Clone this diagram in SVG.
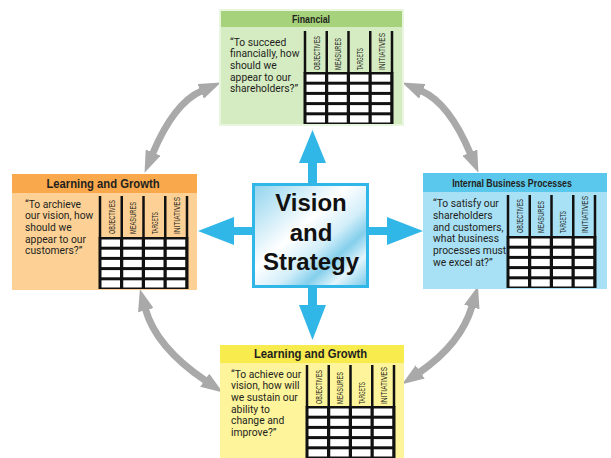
<svg xmlns="http://www.w3.org/2000/svg" xmlns:xlink="http://www.w3.org/1999/xlink" width="611" height="458" viewBox="0 0 611 458">
<style>
.body{font-family:Roboto,"Liberation Sans",sans-serif;font-size:10.3px;fill:#231f20}
.title{font-family:"Liberation Sans",Arial,sans-serif;font-weight:bold;font-size:11px;fill:#231f20;text-anchor:middle}
.big{font-size:12px}
.hdr{font-family:"Liberation Sans",sans-serif;font-size:9.5px;fill:#231f20}
.center{font-family:"Liberation Sans",Arial,sans-serif;font-weight:bold;font-size:24px;fill:#111;text-anchor:middle}
.blue{fill:#31b7e7}
.gray{fill:none;stroke:#a9a9a9;stroke-width:7}
</style>
<defs>
<linearGradient id="vg" x1="0" y1="0" x2="1" y2="1">
<stop offset="0" stop-color="#8fd3ee"/>
<stop offset="0.42" stop-color="#ffffff"/>
<stop offset="0.6" stop-color="#d2eef9"/>
<stop offset="0.72" stop-color="#84cfec"/>
<stop offset="0.84" stop-color="#e4f5fb"/>
<stop offset="1" stop-color="#72c8ea"/>
</linearGradient>
<marker id="gh" markerUnits="userSpaceOnUse" markerWidth="22" markerHeight="16" viewBox="0 0 22 16" refX="1" refY="8" orient="auto-start-reverse">
<path d="M0,0 L22,8 L0,16 z" fill="#a9a9a9"/>
</marker>
<g id="grid">
<rect x="-1.25" y="0" width="2.5" height="42" fill="#111"/>
<rect x="20.5" y="0" width="2.5" height="42" fill="#111"/>
<rect x="42.25" y="0" width="2.5" height="42" fill="#111"/>
<rect x="64" y="0" width="2.5" height="42" fill="#111"/>
<rect x="85.75" y="0" width="2.5" height="42" fill="#111"/>
<rect x="-1.5" y="41" width="90" height="52" fill="#111"/>
<g fill="#fff">
<rect x="1.5" y="43.5" width="18.5" height="7.2"/><rect x="23.25" y="43.5" width="18.5" height="7.2"/><rect x="45" y="43.5" width="18.5" height="7.2"/><rect x="66.75" y="43.5" width="18.5" height="7.2"/>
<rect x="1.5" y="53.7" width="18.5" height="7.2"/><rect x="23.25" y="53.7" width="18.5" height="7.2"/><rect x="45" y="53.7" width="18.5" height="7.2"/><rect x="66.75" y="53.7" width="18.5" height="7.2"/>
<rect x="1.5" y="63.9" width="18.5" height="7.2"/><rect x="23.25" y="63.9" width="18.5" height="7.2"/><rect x="45" y="63.9" width="18.5" height="7.2"/><rect x="66.75" y="63.9" width="18.5" height="7.2"/>
<rect x="1.5" y="74.1" width="18.5" height="7.2"/><rect x="23.25" y="74.1" width="18.5" height="7.2"/><rect x="45" y="74.1" width="18.5" height="7.2"/><rect x="66.75" y="74.1" width="18.5" height="7.2"/>
<rect x="1.5" y="84.3" width="18.5" height="7.2"/><rect x="23.25" y="84.3" width="18.5" height="7.2"/><rect x="45" y="84.3" width="18.5" height="7.2"/><rect x="66.75" y="84.3" width="18.5" height="7.2"/>
</g>
</g>
</defs>

<g id="connectors">
<path class="gray" d="M201.6,90.9 Q174,103 152.7,153.5" marker-start="url(#gh)" marker-end="url(#gh)"/>
<path class="gray" d="M421.4,90.9 Q449,103 470.3,153.5" marker-start="url(#gh)" marker-end="url(#gh)"/>
<path class="gray" d="M145.5,309.2 Q156,347 205.5,380.7" marker-start="url(#gh)" marker-end="url(#gh)"/>
<path class="gray" d="M472.1,306.1 Q461,344 419.4,372.5" marker-start="url(#gh)" marker-end="url(#gh)"/>
<g class="blue">
<rect x="308" y="160" width="9" height="25"/>
<polygon points="299,163 312.5,130 326,163"/>
<rect x="308" y="286" width="9" height="21"/>
<polygon points="299,305 312.5,340 326,305"/>
<rect x="231" y="227" width="23" height="8"/>
<polygon points="234,217 198,231 234,245"/>
<rect x="367" y="227" width="23" height="8"/>
<polygon points="387,217 423,231 387,245"/>
</g>
</g>

<g id="financial">
<rect x="220" y="10" width="183" height="115" fill="#d5ebc2" stroke="#e8f6de" stroke-width="2"/>
<rect x="221" y="11" width="181" height="16" fill="#a6d27b"/>
<text class="title" transform="translate(311,23) scale(0.8,1)">Financial</text>
<text class="body"><tspan x="230" y="45.5">“To succeed</tspan><tspan x="230" y="57.2">financially, how</tspan><tspan x="230" y="68.9">should we</tspan><tspan x="230" y="80.6">appear to our</tspan><tspan x="230" y="92.3">shareholders?”</tspan></text>
<use xlink:href="#grid" x="305" y="31"/>
<g class="hdr">
<text transform="translate(319.5,70) rotate(-90)" textLength="34" lengthAdjust="spacingAndGlyphs">OBJECTIVES</text>
<text transform="translate(341.25,70) rotate(-90)" textLength="32" lengthAdjust="spacingAndGlyphs">MEASURES</text>
<text transform="translate(363,70) rotate(-90)" textLength="22" lengthAdjust="spacingAndGlyphs">TARGETS</text>
<text transform="translate(384.75,70) rotate(-90)" textLength="37" lengthAdjust="spacingAndGlyphs">INITIATIVES</text>
</g>
</g>

<g id="learning-left">
<rect x="12" y="174" width="185" height="116" fill="#fdd196"/>
<rect x="12" y="174" width="185" height="19" fill="#f9a94b"/>
<text class="title big" transform="translate(103,188) scale(0.94,1)">Learning and Growth</text>
<text class="body"><tspan x="25" y="207.5">“To archieve</tspan><tspan x="25" y="219.2">our vision, how</tspan><tspan x="25" y="230.9">should we</tspan><tspan x="25" y="242.6">appear to our</tspan><tspan x="25" y="254.3">customers?”</tspan></text>
<use xlink:href="#grid" x="100" y="196"/>
<g class="hdr">
<text transform="translate(114.5,234) rotate(-90)" textLength="34" lengthAdjust="spacingAndGlyphs">OBJECTIVES</text>
<text transform="translate(136.25,234) rotate(-90)" textLength="32" lengthAdjust="spacingAndGlyphs">MEASURES</text>
<text transform="translate(158,234) rotate(-90)" textLength="22" lengthAdjust="spacingAndGlyphs">TARGETS</text>
<text transform="translate(179.75,234) rotate(-90)" textLength="37" lengthAdjust="spacingAndGlyphs">INITIATIVES</text>
</g>
</g>

<g id="internal">
<rect x="423" y="173" width="184" height="116" fill="#a8e0f5"/>
<rect x="423" y="173" width="184" height="19" fill="#5ac8ec"/>
<text class="title" transform="translate(512,186.5) scale(0.8,1)">Internal Business Processes</text>
<text class="body"><tspan x="433" y="207.3">“To satisfy our</tspan><tspan x="433" y="219">shareholders</tspan><tspan x="433" y="230.7">and customers,</tspan><tspan x="433" y="242.4">what business</tspan><tspan x="433" y="254.1">processes must</tspan><tspan x="433" y="265.8">we excel at?”</tspan></text>
<use xlink:href="#grid" x="508" y="195"/>
<g class="hdr">
<text transform="translate(522.5,233) rotate(-90)" textLength="34" lengthAdjust="spacingAndGlyphs">OBJECTIVES</text>
<text transform="translate(544.25,233) rotate(-90)" textLength="32" lengthAdjust="spacingAndGlyphs">MEASURES</text>
<text transform="translate(566,233) rotate(-90)" textLength="22" lengthAdjust="spacingAndGlyphs">TARGETS</text>
<text transform="translate(587.75,233) rotate(-90)" textLength="37" lengthAdjust="spacingAndGlyphs">INITIATIVES</text>
</g>
</g>

<g id="learning-bottom">
<rect x="220" y="345" width="184" height="113" fill="#fdf49b"/>
<rect x="220" y="345" width="184" height="18" fill="#f8eb4e"/>
<text class="title big" transform="translate(310.5,358) scale(0.94,1)">Learning and Growth</text>
<text class="body"><tspan x="231" y="377.5">“To achieve our</tspan><tspan x="231" y="389.2">vision, how will</tspan><tspan x="231" y="400.9">we sustain our</tspan><tspan x="231" y="412.6">ability to</tspan><tspan x="231" y="424.3">change and</tspan><tspan x="231" y="436">improve?”</tspan></text>
<use xlink:href="#grid" x="307" y="365"/>
<g class="hdr">
<text transform="translate(321.5,404) rotate(-90)" textLength="34" lengthAdjust="spacingAndGlyphs">OBJECTIVES</text>
<text transform="translate(343.25,404) rotate(-90)" textLength="32" lengthAdjust="spacingAndGlyphs">MEASURES</text>
<text transform="translate(365,404) rotate(-90)" textLength="22" lengthAdjust="spacingAndGlyphs">TARGETS</text>
<text transform="translate(386.75,404) rotate(-90)" textLength="37" lengthAdjust="spacingAndGlyphs">INITIATIVES</text>
</g>
</g>

<g id="vision">
<rect x="253.5" y="184.5" width="114" height="102" fill="url(#vg)" stroke="#31b7e7" stroke-width="3"/>
<text class="center" x="311" y="211">Vision</text>
<text class="center" x="311" y="241">and</text>
<text class="center" x="311" y="270">Strategy</text>
</g>
</svg>
